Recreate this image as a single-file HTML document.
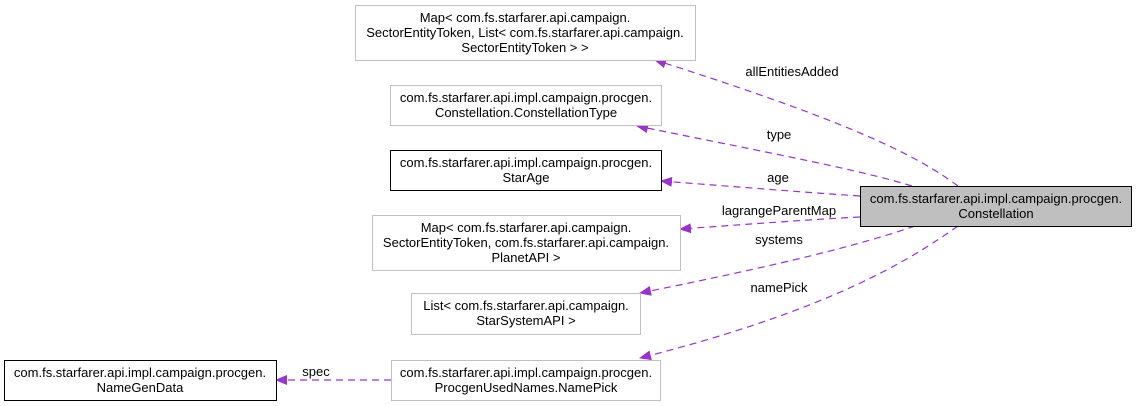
<!DOCTYPE html>
<html><head><style>body{margin:0;background:#fff}svg{display:block}text{font-family:"Liberation Sans",sans-serif;font-size:13px;fill:#000}</style></head>
<body>
<svg width="1136" height="406" viewBox="0 0 1136 406" xmlns="http://www.w3.org/2000/svg">
<defs><marker id="a" markerWidth="12" markerHeight="10" refX="11" refY="5" orient="auto" markerUnits="userSpaceOnUse"><path d="M0,0 L12,5 L0,10 z" fill="#9a32cd"/></marker></defs>
<g fill="none" stroke="#9a32cd" stroke-dasharray="7,5" stroke-width="1.2" marker-end="url(#a)">
<path d="M958,186 C920,158 860,125 655,60"/>
<path d="M912,186 C860,170 780,155 637,126"/>
<path d="M860,196 C800,192 740,187 661,181"/>
<path d="M860,217 C800,220 740,225 680,229"/>
<path d="M915,226 C860,245 780,265 640,293"/>
<path d="M958,226 C910,260 830,310 640,358"/>
<path d="M391,380 L276,380"/>
</g>
<g stroke="#c0c0c0" fill="#fff">
<rect x="355.5" y="5.5" width="340" height="55"/>
<rect x="390.5" y="85.5" width="271" height="40"/>
<rect x="372.5" y="215.5" width="308" height="55"/>
<rect x="411.5" y="293.5" width="229" height="41"/>
<rect x="391.5" y="360.5" width="269" height="40"/>
</g>
<g stroke="#000" fill="#fff">
<rect x="390.5" y="150.5" width="271" height="40"/>
<rect x="4.5" y="360.5" width="272" height="40"/>
</g>
<rect x="860.5" y="186.5" width="271" height="40" fill="#bfbfbf" stroke="#000"/>
<g text-anchor="middle">
<text x="525" y="22">Map&lt; com.fs.starfarer.api.campaign.</text>
<text x="525" y="37">SectorEntityToken, List&lt; com.fs.starfarer.api.campaign.</text>
<text x="525" y="52">SectorEntityToken &gt; &gt;</text>
<text x="526" y="102">com.fs.starfarer.api.impl.campaign.procgen.</text>
<text x="526" y="117">Constellation.ConstellationType</text>
<text x="526" y="167">com.fs.starfarer.api.impl.campaign.procgen.</text>
<text x="526" y="182">StarAge</text>
<text x="526" y="232">Map&lt; com.fs.starfarer.api.campaign.</text>
<text x="526" y="247">SectorEntityToken, com.fs.starfarer.api.campaign.</text>
<text x="526" y="262">PlanetAPI &gt;</text>
<text x="526" y="310">List&lt; com.fs.starfarer.api.campaign.</text>
<text x="526" y="325">StarSystemAPI &gt;</text>
<text x="526" y="377">com.fs.starfarer.api.impl.campaign.procgen.</text>
<text x="526" y="392">ProcgenUsedNames.NamePick</text>
<text x="140" y="377">com.fs.starfarer.api.impl.campaign.procgen.</text>
<text x="140" y="392">NameGenData</text>
<text x="996" y="203">com.fs.starfarer.api.impl.campaign.procgen.</text>
<text x="996" y="218">Constellation</text>
<text x="792" y="76">allEntitiesAdded</text>
<text x="779" y="139">type</text>
<text x="778" y="182">age</text>
<text x="779" y="215">lagrangeParentMap</text>
<text x="779" y="244">systems</text>
<text x="779" y="292">namePick</text>
<text x="316" y="376">spec</text>
</g>
</svg>
</body></html>
